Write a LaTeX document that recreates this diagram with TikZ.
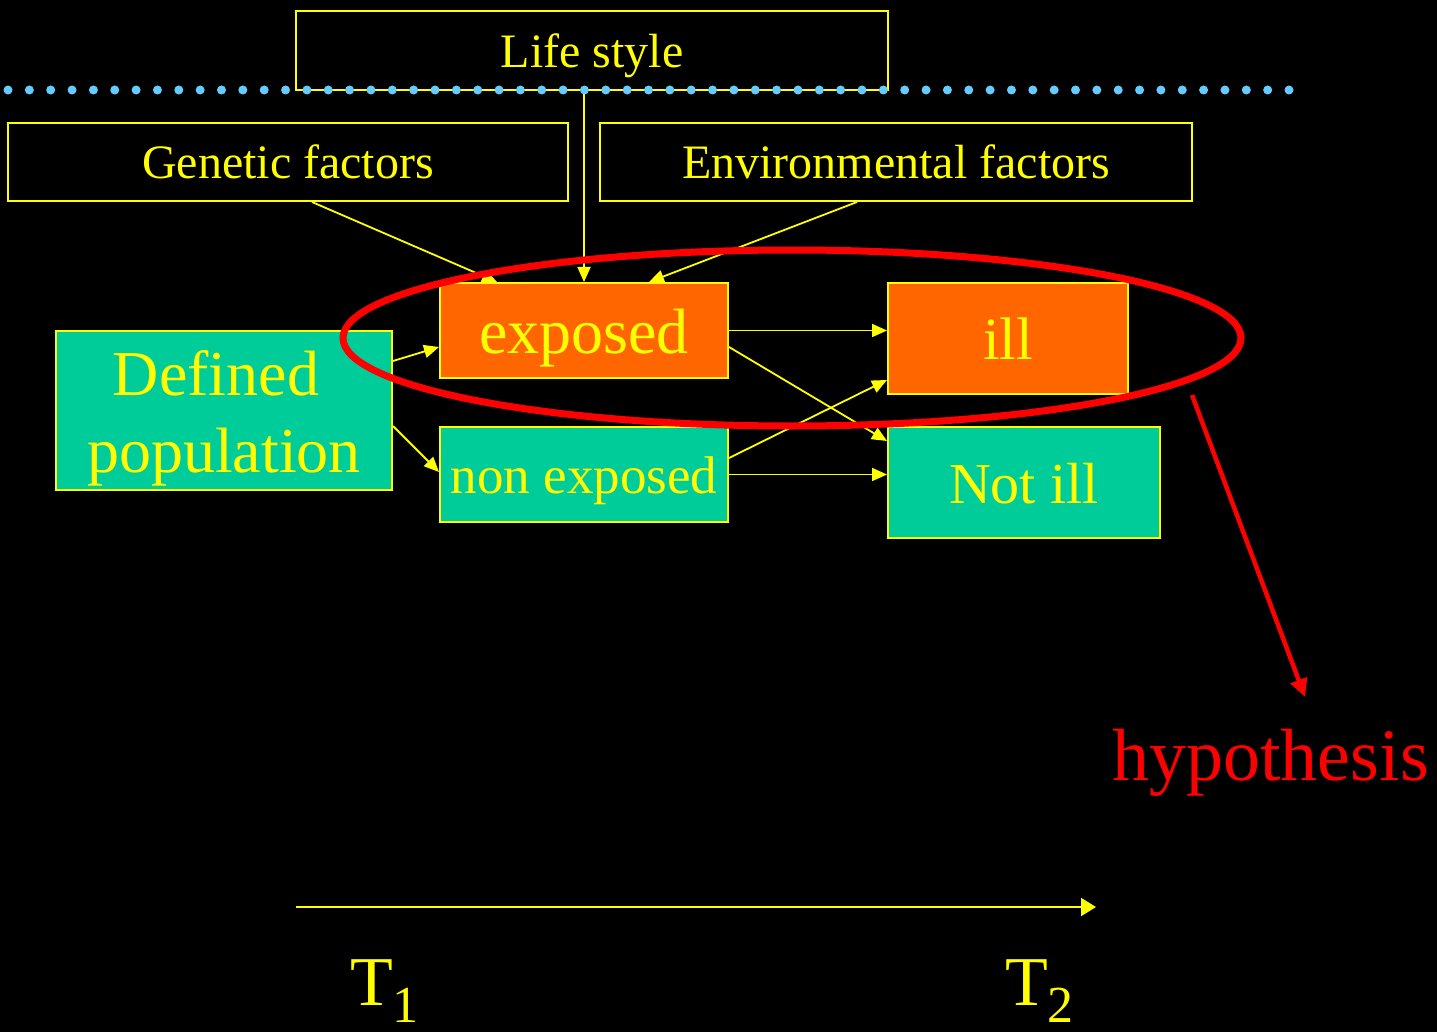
\documentclass[tikz,border=0pt]{standalone}
\usepackage{fontspec}
\setmainfont{Liberation Serif}
\usetikzlibrary{arrows.meta,calc}
\definecolor{yel}{HTML}{FFFF00}
\definecolor{org}{HTML}{FF6600}
\definecolor{teal}{HTML}{00CC99}
\definecolor{dotblue}{HTML}{66CCFF}
\definecolor{hred}{HTML}{FF0000}
\tikzset{
  box/.style={draw=yel, line width=2pt, inner sep=0pt, text=yel, align=center, text depth=0pt},
  hollow/.style={box, fill=black},
  orangebox/.style={box, fill=org},
  tealbox/.style={box, fill=teal},
  conn/.style={draw=yel, line width=1.8pt, -{Triangle[length=15pt,width=13pt]}},
}
\newcommand{\fs}[1]{\fontsize{#1}{#1}\selectfont}
\begin{document}
\begin{tikzpicture}[x=1pt,y=-1pt]
\fill[black] (0,0) rectangle (1437,1032);
\useasboundingbox (0,0) rectangle (1437,1032);

% boxes
\node[hollow, minimum width=592pt, minimum height=79pt, font=\fs{48}, text height=34pt] (life) at (592,50.5) {Life style};
\node[hollow, minimum width=560pt, minimum height=78pt, font=\fs{48}, text height=34pt] (gen) at (288,162) {Genetic factors};
\node[hollow, minimum width=592pt, minimum height=78pt, font=\fs{48}, text height=34pt] (env) at (896,162) {Environmental factors};
\node[tealbox, minimum width=336pt, minimum height=159pt, font=\fontsize{64}{77}\selectfont, text height=124pt] (def) at (224,410.5) {Defined\hspace*{16pt}\\population};
\node[orangebox, minimum width=288pt, minimum height=95pt, font=\fs{64}, text height=45pt] (exp) at (584,330.5) {exposed};
\node[tealbox, minimum width=288pt, minimum height=95pt, font=\fs{53}, text height=37pt] (non) at (584,474.5) {non exposed};
\node[orangebox, minimum width=240pt, minimum height=111pt, font=\fs{60}, text height=42pt] (ill) at (1008,338.5) {ill};
\node[tealbox, minimum width=272pt, minimum height=111pt, font=\fs{58}, text height=41pt] (notill) at (1024,482.5) {Not ill};

% connectors
\draw[conn] ($(gen.south)+(24,0)$) -- ($(exp.north west)+(58,0)$);
\draw[conn] (exp.north |- life.south) -- (exp.north);
\draw[conn] ($(env.south)+(-39,0)$) -- ($(exp.north west)+(210,0)$);
\draw[conn] ($(def.north east)+(0,31)$) -- ($(exp.west)+(0,16.5)$);
\draw[conn] ($(def.north east)+(0,96)$) -- ($(non.west)+(0,-2.5)$);
\draw[conn] (exp.east) -- (exp.east -| ill.west);
\draw[conn] ($(exp.east)+(0,16.5)$) -- ($(notill.north west)+(0,15)$);
\draw[conn] ($(non.east)+(0,-16.5)$) -- ($(ill.south west)+(0,-15)$);
\draw[conn] (non.east) -- (non.east -| notill.west);

% dotted line
\foreach \i in {0,...,60} {
  \fill[dotblue] (8+\i*21.35,90) circle[radius=4.5pt];
}

% ellipse
\draw[hred, line width=7pt] (792,338) ellipse[x radius=449pt, y radius=88pt];

% hypothesis
\node[anchor=base west, inner sep=0pt, text=hred, font=\fs{74}] (hyp) at (1112,780) {hypothesis};
\coordinate (hs) at (1192,395);
\coordinate (he) at (1305,697);
\draw[hred, line width=4.5pt, -{Triangle[length=18pt,width=17pt]}] (hs) -- (he);

% timeline
\coordinate (t0) at (296,907);
\coordinate (t1) at (1096,907);
\draw[draw=yel, line width=2pt, -{Triangle[length=15pt,width=18pt]}] (t0) -- (t1);
\node[anchor=base west, inner sep=0pt, text=yel, font=\fs{70}] (T1) at (350,1005) {T\raisebox{-17pt}{\fs{52}1}};
\node[anchor=base west, inner sep=0pt, text=yel, font=\fs{70}] (T2) at (1005,1005) {T\raisebox{-17pt}{\fs{52}2}};
\end{tikzpicture}
\end{document}
